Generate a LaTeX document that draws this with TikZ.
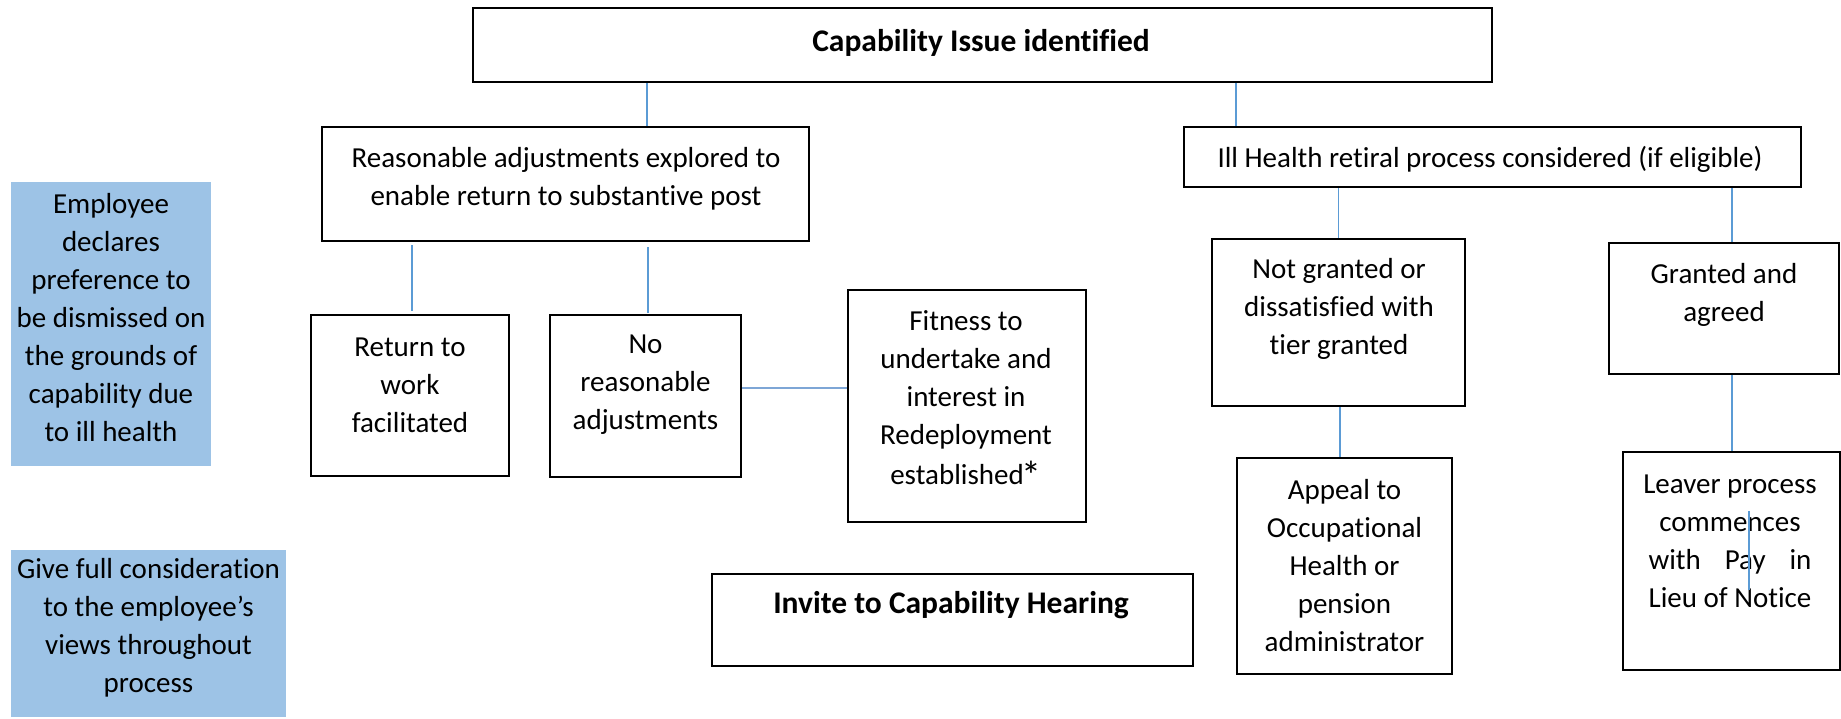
\documentclass[tikz,border=0pt]{standalone}
\usepackage{fontspec}
\setmainfont{Carlito}[Ligatures={NoCommon,NoContextual}]
\usepackage{calc}
\definecolor{connblue}{HTML}{5B9BD5}
\definecolor{connlight}{HTML}{7EA6D6}
\definecolor{bluefill}{HTML}{9DC3E6}
\begin{document}
\begin{tikzpicture}[x=1pt,y=-1pt,
  box/.style={draw=black, line width=2pt, inner sep=0pt},
  bluebox/.style={fill=bluefill, inner sep=0pt},
  txt/.style={align=center, inner sep=0pt, font=\fontsize{29}{38}\selectfont},
  btxt/.style={align=center, inner sep=0pt, font=\fontsize{31.5}{38}\selectfont\bfseries},
  link/.style={draw=connblue, line width=1.2pt},
  linkwide/.style={draw=connlight, line width=2pt}]
\useasboundingbox (0,0) rectangle (1841,718);

% boxes
\node[box, minimum width=1019pt, minimum height=74pt] (top) at (982.5,45) {};
\node[box, minimum width=487pt, minimum height=114pt] (reas) at (565.5,184) {};
\node[box, minimum width=617pt, minimum height=60pt] (ill) at (1492.5,157) {};
\node[bluebox, minimum width=200pt, minimum height=284pt] (blueA) at (111,324) {};
\node[bluebox, minimum width=275pt, minimum height=167pt] (blueB) at (148.5,633.5) {};
\node[box, minimum width=198pt, minimum height=161pt] (ret) at (410,395.5) {};
\node[box, minimum width=191pt, minimum height=162pt] (noadj) at (645.5,396) {};
\node[box, minimum width=238pt, minimum height=232pt] (fit) at (966.5,406) {};
\node[box, minimum width=481pt, minimum height=92pt] (inv) at (952.5,620) {};
\node[box, minimum width=253pt, minimum height=167pt] (notg) at (1338.5,322.5) {};
\node[box, minimum width=230pt, minimum height=131pt] (gra) at (1724,308.5) {};
\node[box, minimum width=215pt, minimum height=216pt] (app) at (1344.5,566) {};
\node[box, minimum width=217pt, minimum height=218pt] (lea) at (1731,561) {};

% texts
\node[btxt] (topt) at (981,43) {Capability Issue identified};
\node[txt] (reast) at (566,179) {Reasonable adjustments explored to\\enable return to substantive post};
\node[txt] (illt) at (1490,159) {Ill Health retiral process considered (if eligible)};
\node[txt] (blueAt) at (111,317.5) {Employee\\declares\\preference to\\be dismissed on\\the grounds of\\capability due\\to ill health};
\node[txt] (blueBt) at (148.5,627.5) {Give full consideration\\to the employee’s\\views throughout\\process};
\node[txt] (rett) at (410,385) {Return to\\work\\facilitated};
\node[txt] (noadjt) at (645.5,385) {No\\reasonable\\adjustments};
\node[txt] (fitt) at (966,400) {Fitness to\\undertake and\\interest in\\Redeployment\\[2pt]established\kern-2pt\raisebox{-5pt}{\fontsize{40}{40}\selectfont *}};
\node[btxt] (invt) at (951,605) {Invite to Capability Hearing};
\node[txt] (notgt) at (1339,309) {Not granted or\\dissatisfied with\\tier granted};
\node[txt] (grat) at (1724,295) {Granted and\\agreed};
\node[txt] (appt) at (1344.5,566) {Appeal to\\Occupational\\Health or\\pension\\administrator};
\node[txt] (leat) at (1730,541) {Leaver process\\commences\\\makebox[\widthof{Lieu of Notice}][s]{with Pay in}\\Lieu of Notice};

% connectors
\draw[link] ([xshift=81.5pt]reas.north) -- ([xshift=81.5pt]reas.north |- top.south);
\draw[link] ([xshift=-256.5pt]ill.north) -- ([xshift=-256.5pt]ill.north |- top.south);
\draw[link, shorten <=3pt, shorten >=3pt] ([xshift=2pt]ret.north |- reas.south) -- ([xshift=2pt]ret.north);
\draw[link, shorten <=5pt, shorten >=1pt] ([xshift=2.5pt]noadj.north |- reas.south) -- ([xshift=2.5pt]noadj.north);
\draw[linkwide] ([yshift=8pt]noadj.east) -- ([yshift=8pt]noadj.east -| fit.west);
\draw[link] (notg.north |- ill.south) -- (notg.north);
\draw[link] ([xshift=8pt]gra.north |- ill.south) -- ([xshift=8pt]gra.north);
\draw[link] ([xshift=-4.5pt]app.north |- notg.south) -- ([xshift=-4.5pt]app.north);
\draw[link] ([xshift=1pt]lea.north |- gra.south) -- ([xshift=1pt]lea.north);
\draw[link] ([shift={(18,-50)}]lea.center) coordinate (strayA) -- ([shift={(18,29)}]lea.center) coordinate (strayB);
\end{tikzpicture}
\end{document}
